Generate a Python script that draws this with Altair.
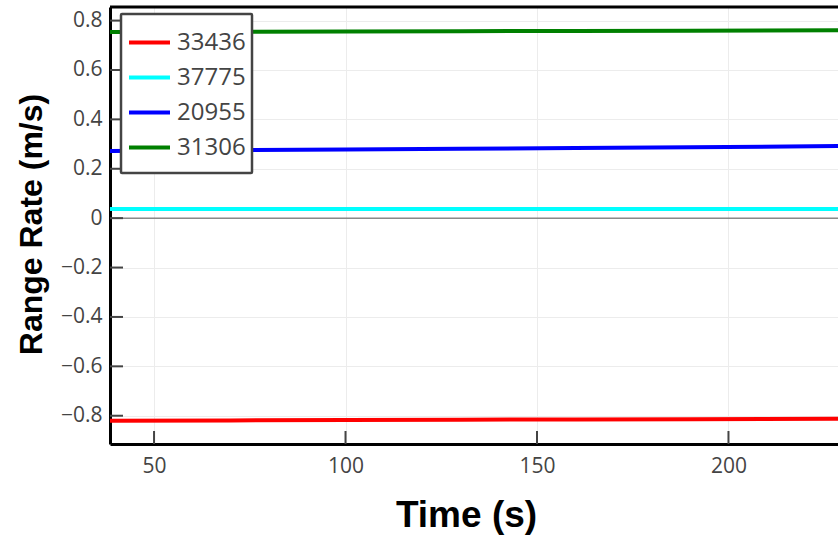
import altair as alt
import pandas as pd

# ---- data ----
time_s = [38.5, 70, 100, 130, 160, 190, 228.6]
series_names = ["33436", "37775", "20955", "31306"]
series_colors = ["#ff0000", "#00ffff", "#0000ff", "#008000"]
rate_33436 = [-0.820, -0.819, -0.817, -0.816, -0.815, -0.814, -0.812]
rate_37775 = [0.037, 0.037, 0.037, 0.037, 0.037, 0.037, 0.037]
rate_20955 = [0.272, 0.275, 0.278, 0.281, 0.284, 0.287, 0.292]
rate_31306 = [0.754, 0.755, 0.756, 0.757, 0.758, 0.759, 0.761]
x_ticks = [50, 100, 150, 200]
y_ticks = [-0.8, -0.6, -0.4, -0.2, 0, 0.2, 0.4, 0.6, 0.8]
x_domain = [38.5, 228.6]
y_domain = [-0.9145, 0.855]

series_values = [rate_33436, rate_37775, rate_20955, rate_31306]
rows = []
for name, vals in zip(series_names, series_values):
    for t, v in zip(time_s, vals):
        rows.append({"time": t, "rate": v, "id": name})
df = pd.DataFrame(rows)

W, H = 728, 437
FONT_T = "Liberation Sans"
FONT_L = "Open Sans"

xscale = alt.Scale(domain=x_domain, nice=False, zero=False)
yscale = alt.Scale(domain=y_domain, nice=False, zero=False)

x_axis = alt.Axis(values=x_ticks, title="Time (s)", ticks=False, grid=True,
                  labelFont=FONT_L, labelFontSize=21, labelColor="#444",
                  labelPadding=11, domainColor="black", domainWidth=3,
                  titleFont=FONT_T, titleFontSize=37, titleFontWeight="bold",
                  titleColor="black", titleX=356, titleY=82,
                  titleBaseline="alphabetic", titleAlign="center")
y_axis = alt.Axis(values=y_ticks, title="Range Rate (m/s)", ticks=False, grid=True,
                  format=".1~f",
                  labelFont=FONT_L, labelFontSize=21, labelColor="#444",
                  labelPadding=8, domainColor="black", domainWidth=3,
                  titleFont=FONT_T, titleFontSize=32, titleFontWeight="bold",
                  titleColor="black", titleX=-79, titleY=217,
                  titleAngle=-90, titleAlign="center", titleBaseline="middle")

lines = alt.Chart(df).mark_line(strokeWidth=4, clip=True).encode(
    x=alt.X("time:Q", scale=xscale, axis=x_axis),
    y=alt.Y("rate:Q", scale=yscale, axis=y_axis),
    color=alt.Color("id:N",
                    scale=alt.Scale(domain=series_names, range=series_colors),
                    sort=series_names,
                    legend=alt.Legend(orient="none", legendX=11, legendY=7,
                                      title=" ", titleOrient="bottom",
                                      titleFontSize=1, titlePadding=6,
                                      symbolType="stroke",
                                      symbolSize=1681, symbolStrokeWidth=4,
                                      labelFont=FONT_L, labelFontSize=24,
                                      labelColor="#444", strokeColor="#444",
                                      fillColor="white", padding=6,
                                      rowPadding=-4, labelOffset=5)),
)

zero_df = pd.DataFrame({"v": [0]})
zero_line = alt.Chart(zero_df).mark_rule(color="#555", strokeWidth=1).encode(
    y=alt.Y("v:Q", scale=yscale)
)

ytick_df = pd.DataFrame({"v": y_ticks})
ytick_marks = alt.Chart(ytick_df).mark_rule(color="#444", strokeWidth=2).encode(
    y=alt.Y("v:Q", scale=yscale), x=alt.value(0), x2=alt.value(13)
)
xtick_df = pd.DataFrame({"v": x_ticks})
xtick_marks = alt.Chart(xtick_df).mark_rule(color="#444", strokeWidth=2).encode(
    x=alt.X("v:Q", scale=xscale), y=alt.value(H), y2=alt.value(H - 13)
)
top_frame = alt.Chart(zero_df).mark_rule(color="black", strokeWidth=3).encode(
    x=alt.value(0), x2=alt.value(W), y=alt.value(0)
)

chart = alt.layer(zero_line, ytick_marks, xtick_marks, lines, top_frame).properties(
    width=W, height=H,
    autosize=alt.AutoSizeParams(type="none"),
    padding={"left": 110, "top": 7, "right": 0, "bottom": 95},
).configure_view(stroke=None).configure_axis(
    gridColor="#ececec", gridWidth=1
).configure_legend(strokeWidth=2.5, cornerRadius=1)

chart.save("out.html", embed_options={"renderer": "svg", "actions": False})
